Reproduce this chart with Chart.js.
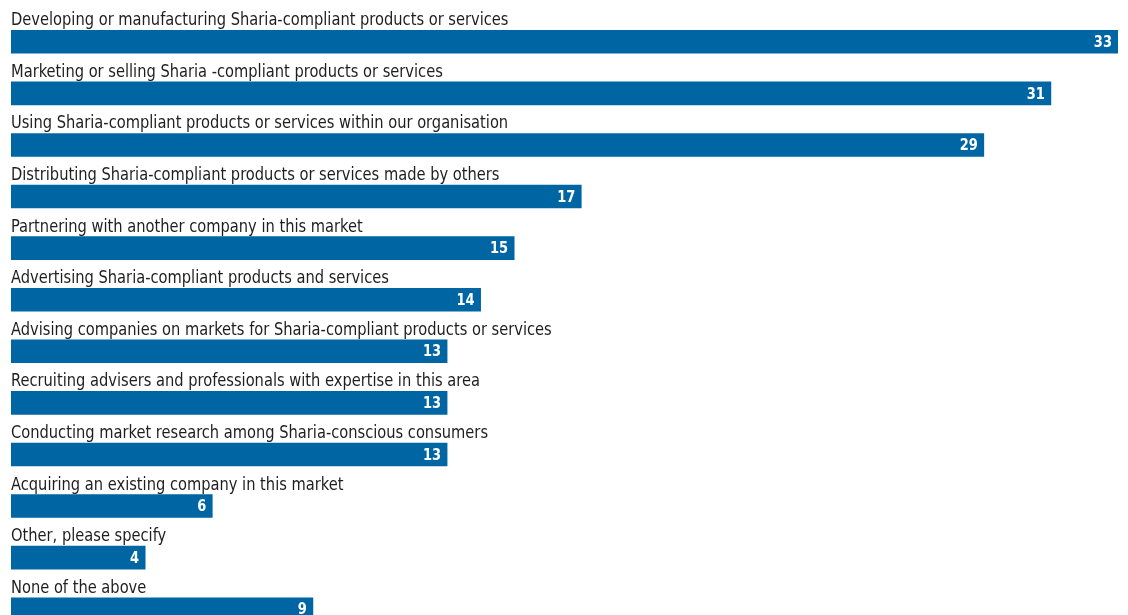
<!DOCTYPE html>
<html>
<head>
<meta charset="utf-8">
<script src="https://cdn.jsdelivr.net/npm/chart.js@4/dist/chart.umd.min.js"></script>
<style>
  html, body { margin: 0; padding: 0; background: #fff; overflow: hidden; }
  #wrap { position: relative; width: 1128px; height: 635px; }
</style>
</head>
<body>
<div id="wrap"><canvas id="c"></canvas></div>
<script>
const categories = [
  "Developing or manufacturing Sharia-compliant products or services",
  "Marketing or selling Sharia -compliant products or services",
  "Using Sharia-compliant products or services within our organisation",
  "Distributing Sharia-compliant products or services made by others",
  "Partnering with another company in this market",
  "Advertising Sharia-compliant products and services",
  "Advising companies on markets for Sharia-compliant products or services",
  "Recruiting advisers and professionals with expertise in this area",
  "Conducting market research among Sharia-conscious consumers",
  "Acquiring an existing company in this market",
  "Other, please specify",
  "None of the above"
];
const values = [33, 31, 29, 17, 15, 14, 13, 13, 13, 6, 4, 9];
const axisMax = 33;

const LABEL_FONT = '18px "DejaVu Sans Condensed", "Liberation Sans Narrow", sans-serif';
const VALUE_FONT = 'bold 16px "DejaVu Sans Condensed", "Liberation Sans Narrow", sans-serif';
const NARROW = 0.905; // horizontal squeeze for a condensed look

function narrowText(ctx, text, x, y, align) {
  ctx.save();
  ctx.translate(x, y);
  ctx.scale(NARROW, 1);
  ctx.textAlign = align;
  ctx.fillText(text, 0, 0);
  ctx.restore();
}

// Category names above each bar and the value inside its right end
const barLabels = {
  id: 'barLabels',
  afterDatasetsDraw(chart) {
    const ctx = chart.ctx;
    const meta = chart.getDatasetMeta(0);
    ctx.save();
    meta.data.forEach((bar, i) => {
      const top = bar.y - bar.height / 2;
      ctx.font = LABEL_FONT;
      ctx.fillStyle = '#1e1e1e';
      ctx.textBaseline = 'alphabetic';
      narrowText(ctx, categories[i], bar.base, top - 5, 'left');

      ctx.font = VALUE_FONT;
      ctx.fillStyle = '#ffffff';
      ctx.textBaseline = 'middle';
      narrowText(ctx, String(values[i]), bar.x - 6, bar.y + 1, 'right');
    });
    ctx.restore();
  }
};

new Chart(document.getElementById('c'), {
  type: 'bar',
  data: {
    labels: categories,
    datasets: [{
      data: values,
      backgroundColor: '#0065a3',
      borderWidth: 0,
      barThickness: 23
    }]
  },
  options: {
    indexAxis: 'y',
    responsive: true,
    maintainAspectRatio: false,
    animation: false,
    layout: { padding: { left: 11, right: 10, top: 16, bottom: 0 } },
    plugins: { legend: { display: false }, tooltip: { enabled: false } },
    scales: {
      x: { display: false, min: 0, max: axisMax },
      y: { display: false, offset: true }
    }
  },
  plugins: [barLabels]
});
</script>
</body>
</html>
